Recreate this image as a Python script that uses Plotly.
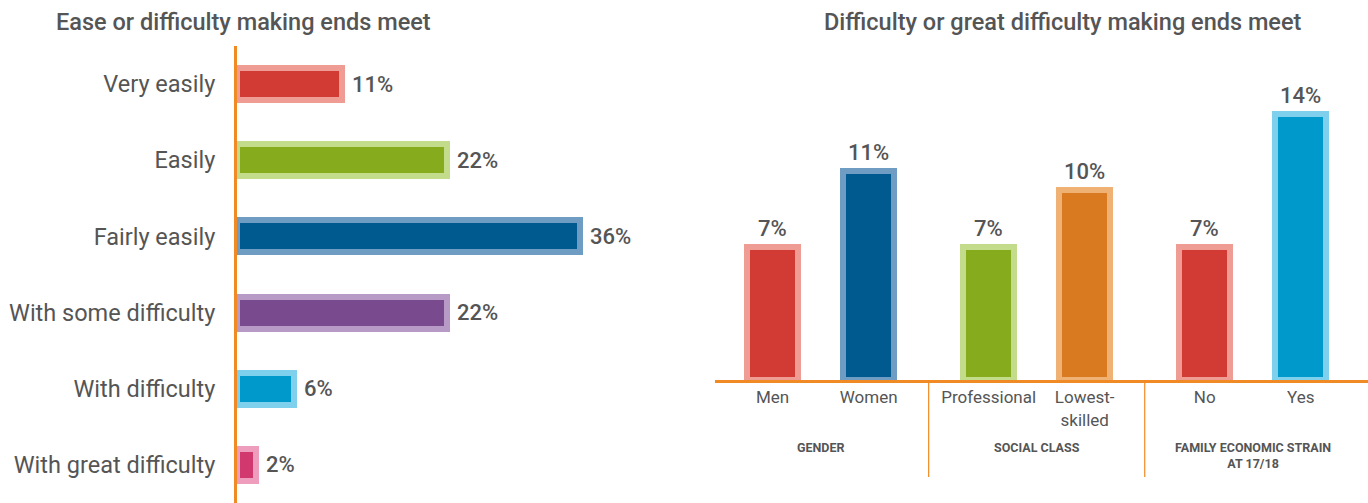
import plotly.graph_objects as go

# ---- Left panel data ----
left_title = "Ease or difficulty making ends meet"
left_categories = ["Very easily", "Easily", "Fairly easily", "With some difficulty",
                   "With difficulty", "With great difficulty"]
left_values = [11, 22, 36, 22, 6, 2]
left_colors = ["#D13B33", "#86AC1E", "#005A8F", "#7A4A8E", "#0099CC", "#D0386E"]
left_edges = ["#EE9C94", "#C3DC8C", "#6F9CC3", "#B79BC6", "#7FD0EC", "#EF9DBC"]

# ---- Right panel data ----
right_title = "Difficulty or great difficulty making ends meet"
group_names = ["GENDER", "SOCIAL CLASS", "FAMILY ECONOMIC STRAIN<br>AT 17/18"]
group_items = [["Men", "Women"], ["Professional", "Lowest-<br>skilled"], ["No", "Yes"]]
group_values = [[7, 11], [7, 10], [7, 14]]
group_colors = [["#D13B33", "#005A8F"], ["#86AC1E", "#D97A21"], ["#D13B33", "#0099CC"]]
group_edges = [["#EE9C94", "#6F9CC3"], ["#C3DC8C", "#F0B274"], ["#EE9C94", "#7FD0EC"]]

TEXT = "#555555"
ORANGE = "#F08A24"
FONT = "Roboto"
W, H = 1368, 503

fig = go.Figure()

# Left horizontal bars
fig.add_trace(go.Bar(
    x=left_values, y=left_categories, orientation="h",
    marker=dict(color=left_colors, line=dict(color=left_edges, width=6)),
    width=0.42, xaxis="x", yaxis="y", showlegend=False, hoverinfo="skip",
))
for cat, v in zip(left_categories, left_values):
    fig.add_annotation(x=v, y=cat, xref="x", yref="y", text=f"{v}%",
                       showarrow=False, xanchor="left", xshift=8,
                       font=dict(family=FONT, size=22, color=TEXT, weight=500))

# Right vertical bars (positions derived from group/item indices)
GROUP_GAP = 2.25
xs, ys, cols, edges, labels = [], [], [], [], []
for g, (items, vals, cs, es) in enumerate(zip(group_items, group_values, group_colors, group_edges)):
    for i, (it, v, c, e) in enumerate(zip(items, vals, cs, es)):
        xs.append(g * GROUP_GAP + i)
        ys.append(v)
        cols.append(c)
        edges.append(e)
        labels.append(it)

fig.add_trace(go.Bar(
    x=xs, y=ys,
    marker=dict(color=cols, line=dict(color=edges, width=6)),
    width=0.53, xaxis="x2", yaxis="y2", showlegend=False, hoverinfo="skip",
))
for x, v in zip(xs, ys):
    fig.add_annotation(x=x, y=v, xref="x2", yref="y2", text=f"{v}%",
                       showarrow=False, yanchor="bottom", yshift=4,
                       font=dict(family=FONT, size=22, color=TEXT, weight=500))

# Group labels and separators
y_base_paper = (H - 380) / H
for g, name in enumerate(group_names):
    center = g * GROUP_GAP + 0.5
    fig.add_annotation(x=center, y=(H - 438) / H, xref="x2", yref="paper",
                       text=f"<b>{name}</b>", showarrow=False, yanchor="top",
                       font=dict(family=FONT, size=12.5, color=TEXT))
    if g > 0:
        sep = g * GROUP_GAP - (GROUP_GAP - 1) / 2
        fig.add_shape(type="line", xref="x2", yref="paper",
                      x0=sep, x1=sep, y0=y_base_paper, y1=(H - 477) / H,
                      line=dict(color=ORANGE, width=1.2))

# Titles
for txt, cx in [(left_title, 243), (right_title, 1063)]:
    fig.add_annotation(x=cx / W, y=(H - 22) / H, xref="paper", yref="paper",
                       text=txt, showarrow=False, xanchor="center", yanchor="middle",
                       font=dict(family=FONT, size=23.5, color=TEXT, weight=500))

fig.update_layout(
    width=W, height=H,
    margin=dict(l=0, r=0, t=0, b=0),
    plot_bgcolor="white", paper_bgcolor="white",
    bargap=0,
    xaxis=dict(domain=[237 / W, 700 / W], range=[0, 48.6], visible=False, fixedrange=True),
    yaxis=dict(domain=[0, (H - 46) / H], autorange="reversed",
               showline=True, linecolor=ORANGE, linewidth=3,
               showgrid=False, zeroline=False, ticks="", ticklabelstandoff=14,
               tickfont=dict(family=FONT, size=23.5, color=TEXT)),
    xaxis2=dict(domain=[715 / W, 1.0], range=[-0.6, 6.2], anchor="y2",
                tickvals=xs, ticktext=labels, showline=True, linecolor=ORANGE,
                linewidth=3, showgrid=False, zeroline=False, ticks="",
                tickfont=dict(family=FONT, size=17, color=TEXT)),
    yaxis2=dict(domain=[y_base_paper, (H - 48) / H], range=[0, 17.47], anchor="x2",
                visible=False),
)

fig.write_html("out.html", config={"displayModeBar": False},
               post_script="document.body.style.margin='0px';")
